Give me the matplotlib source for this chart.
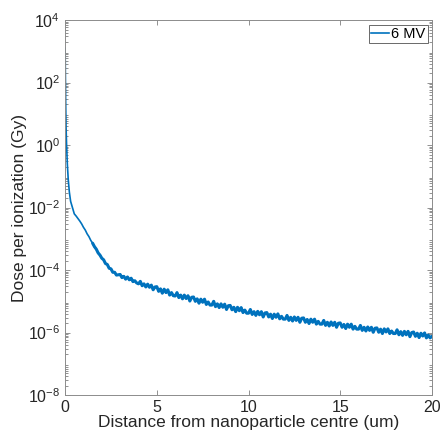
import numpy as np
import matplotlib
matplotlib.use("Agg")
import matplotlib.pyplot as plt
from matplotlib.ticker import LogLocator, NullFormatter, MultipleLocator

plt.rcParams['font.family'] = ['Liberation Sans', 'DejaVu Sans']
plt.rcParams['mathtext.fontset'] = 'custom'
plt.rcParams['mathtext.rm'] = 'Liberation Sans'

# steep part close to the nanoparticle surface (um, log10 Gy)
near_dist = [0, 0.01, 0.02, 0.03, 0.05, 0.08, 0.12, 0.17, 0.23, 0.30, 0.40]
near_logdose = [3.1, 2.5, 2.0, 1.4, 0.6, 0.0, -0.6, -1.1, -1.5, -1.8, -2.0]

# tail sampled every 0.1 um from 0.5 to 20 um (log10 Gy)
tail_start, tail_step = 0.5, 0.1
tail_logdose = [
    -2.20, -2.27, -2.35, -2.43, -2.52,
    -2.63, -2.72, -2.84, -2.93, -3.05, -3.14, -3.25, -3.33, -3.45, -3.52,
    -3.62, -3.67, -3.79, -3.82, -3.94, -3.96, -4.07, -4.07, -4.16, -4.15,
    -4.14, -4.24, -4.20, -4.29, -4.22, -4.31, -4.26, -4.37, -4.34, -4.41,
    -4.44, -4.36, -4.50, -4.44, -4.54, -4.45, -4.55, -4.48, -4.63, -4.54,
    -4.53, -4.68, -4.60, -4.74, -4.61, -4.72, -4.63, -4.80, -4.72, -4.82,
    -4.83, -4.72, -4.88, -4.80, -4.92, -4.80, -4.91, -4.82, -4.99, -4.87,
    -4.86, -5.00, -4.92, -5.06, -4.93, -5.03, -4.93, -5.10, -5.02, -5.12,
    -5.12, -5.00, -5.17, -5.08, -5.20, -5.08, -5.19, -5.09, -5.26, -5.14,
    -5.13, -5.27, -5.19, -5.33, -5.19, -5.30, -5.20, -5.36, -5.28, -5.38,
    -5.38, -5.26, -5.42, -5.33, -5.45, -5.32, -5.43, -5.33, -5.50, -5.37,
    -5.36, -5.50, -5.41, -5.55, -5.41, -5.51, -5.40, -5.56, -5.48, -5.57,
    -5.57, -5.45, -5.61, -5.51, -5.63, -5.50, -5.61, -5.51, -5.67, -5.54,
    -5.53, -5.67, -5.58, -5.71, -5.57, -5.67, -5.57, -5.73, -5.64, -5.73,
    -5.73, -5.61, -5.77, -5.67, -5.79, -5.66, -5.77, -5.67, -5.83, -5.70,
    -5.69, -5.83, -5.74, -5.87, -5.73, -5.83, -5.73, -5.89, -5.80, -5.89,
    -5.89, -5.77, -5.93, -5.83, -5.95, -5.82, -5.93, -5.83, -5.99, -5.86,
    -5.85, -5.99, -5.89, -6.03, -5.88, -5.98, -5.88, -6.03, -5.95, -6.03,
    -6.03, -5.91, -6.07, -5.97, -6.09, -5.96, -6.07, -5.96, -6.13, -6.00,
    -5.98, -6.12, -6.02, -6.16, -6.02, -6.11, -6.01, -6.17, -6.08, -6.17,
    -6.12,
]

tail_dist = tail_start + tail_step * np.arange(len(tail_logdose))
dist = np.concatenate([near_dist, tail_dist])
dose = 10.0 ** np.concatenate([near_logdose, tail_logdose])

fig = plt.figure(figsize=(4.43, 4.38), dpi=100)
ax = fig.add_axes([0.147, 0.098, 0.828, 0.856])

ax.plot(dist, dose, color='#0072BD', lw=1.2, label='6 MV')
# noisy tail looks like a thick band in the original
far = dist >= 1.5
ax.plot(dist[far], dose[far], color='#0072BD', lw=2.2, solid_capstyle='round')

ax.set_yscale('log')
ax.set_xlim(0, 20)
ax.set_ylim(1e-8, 1e4)
ax.xaxis.set_major_locator(MultipleLocator(5))
ax.set_yticks([1e-8, 1e-6, 1e-4, 1e-2, 1e0, 1e2, 1e4])
ax.yaxis.set_minor_locator(LogLocator(base=10, subs=np.arange(2, 10), numticks=20))
ax.yaxis.set_minor_formatter(NullFormatter())

ax.tick_params(which='both', direction='in', top=True, right=True,
               colors='#808080', labelcolor='#262626', labelsize=11.5, width=0.6)
ax.tick_params(which='major', length=3.5)
ax.tick_params(which='minor', length=2)
for s in ax.spines.values():
    s.set_color('#8c8c8c')
    s.set_linewidth(0.7)

ax.set_xlabel('Distance from nanoparticle centre (um)', fontsize=12.5, color='#262626', labelpad=0)
ax.set_ylabel('Dose per ionization (Gy)', fontsize=12.5, color='#262626', labelpad=1)

leg = ax.legend(loc='upper right', fontsize=10.5, frameon=True, fancybox=False,
                handlelength=1.2, handletextpad=0.15, borderpad=0.15,
                borderaxespad=0.3)
leg.get_frame().set_edgecolor('#262626')
leg.get_frame().set_linewidth(0.6)

fig.savefig('out.png', dpi=100)
